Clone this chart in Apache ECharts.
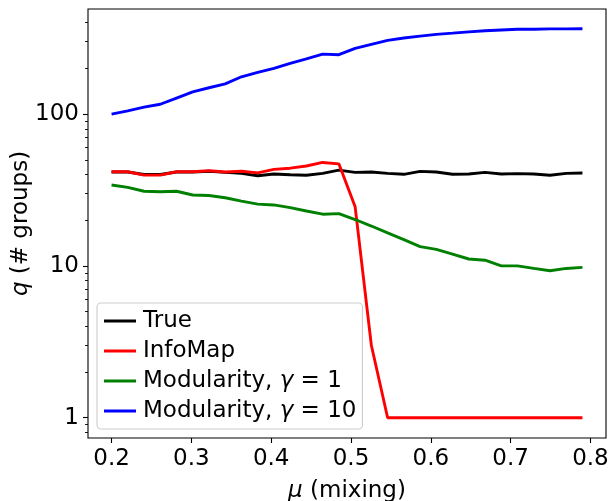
<!DOCTYPE html>
<html>
<head>
<meta charset="utf-8">
<script src="https://cdn.jsdelivr.net/npm/echarts@6/dist/echarts.min.js"></script>
<style>
  html, body { margin: 0; padding: 0; background: #fff; }
  #chart { width: 608px; height: 501px; }
</style>
</head>
<body>
<div id="chart"></div>
<script>
// mixing parameter (30 points, 0.2 .. 0.79)
const mu = [0.2000, 0.2203, 0.2407, 0.2610, 0.2814, 0.3017, 0.3221, 0.3424, 0.3628, 0.3831,
            0.4034, 0.4238, 0.4441, 0.4645, 0.4848, 0.5052, 0.5255, 0.5459, 0.5662, 0.5866,
            0.6069, 0.6272, 0.6476, 0.6679, 0.6883, 0.7086, 0.7290, 0.7493, 0.7697, 0.7900];

const qTrue = [41.5, 41.5, 40, 40, 41.5, 41.5, 42, 41.3, 40.7, 39.2,
               40.3, 39.8, 39.5, 40.7, 42.7, 41.3, 41.5, 40.7, 40.1, 41.9,
               41.5, 40.1, 40.3, 41.3, 40.3, 40.5, 40.3, 39.5, 40.7, 40.9];
const qInfoMap = [41.7, 41.7, 39.6, 39.6, 41.7, 41.7, 42.3, 41.5, 42, 41,
                  43.2, 44, 45.5, 48, 47, 24.5, 3.0, 1, 1, 1,
                  1, 1, 1, 1, 1, 1, 1, 1, 1, 1];
const qMod1 = [34.1, 32.9, 31.0, 30.8, 31.0, 29.3, 29.1, 28.1, 26.7, 25.5,
               25.2, 24.2, 23.0, 21.9, 22.1, 20.2, 18.3, 16.5, 14.9, 13.4,
               12.85, 11.97, 11.1, 10.9, 10.0, 10.0, 9.62, 9.28, 9.62, 9.78];
const qMod10 = [100, 105, 111, 116, 127.5, 140, 149, 158, 176, 188,
                200, 216, 231, 248, 246, 271, 288, 306, 317, 326,
                335, 341, 348, 354, 358, 362, 362, 364, 364, 365];

const xTicks = [0.2, 0.3, 0.4, 0.5, 0.6, 0.7, 0.8];
const yTicks = [1, 10, 100];
const yMinorTicks = [0.8, 0.9, 2, 3, 4, 5, 6, 7, 8, 9, 20, 30, 40, 50, 60, 70, 80, 90, 200, 300, 400];

const font = 'DejaVu Sans';
const fs = 23;
const pairs = ys => mu.map((x, i) => [x, ys[i]]);

const chart = echarts.init(document.getElementById('chart'), null, { renderer: 'canvas' });

function line(name, data, color) {
  return {
    name: name,
    type: 'line',
    data: pairs(data),
    symbol: 'none',
    lineStyle: { color: color, width: 2.9 },
    itemStyle: { color: color },
    animation: false
  };
}

chart.setOption({
  animation: false,
  grid: {
    left: 88, right: 2, top: 9, bottom: 63,
    outerBoundsMode: 'none',
    containLabel: false,
    show: true, borderColor: '#000', borderWidth: 1.1, backgroundColor: 'transparent'
  },
  xAxis: {
    type: 'value',
    min: 0.1705,
    max: 0.8195,
    axisLine: { show: false },
    splitLine: { show: false },
    axisTick: { customValues: xTicks, length: 5, lineStyle: { color: '#000', width: 1.1 } },
    axisLabel: {
      customValues: xTicks,
      formatter: v => v.toFixed(1),
      margin: 10,
      color: '#000',
      fontFamily: font,
      fontSize: fs
    },
    name: '{i|μ} (mixing)',
    nameLocation: 'middle',
    nameGap: 42,
    nameMoveOverlap: false,
    nameTextStyle: {
      color: '#000', fontFamily: font, fontSize: fs,
      rich: { i: { fontStyle: 'italic', fontFamily: font, fontSize: fs, color: '#000' } }
    }
  },
  yAxis: [
    {
      type: 'log',
      logBase: 10,
      min: 0.735,
      max: 492,
      axisLine: { show: false },
      splitLine: { show: false },
      axisTick: { customValues: yTicks, length: 5, lineStyle: { color: '#000', width: 1.1 } },
      axisLabel: {
        customValues: yTicks,
        formatter: v => String(Math.round(v)),
        margin: 9,
        color: '#000',
        fontFamily: font,
        fontSize: fs
      },
      name: '{i|q} (# groups)',
      nameLocation: 'middle',
      nameGap: 55,
      nameMoveOverlap: false,
      nameTextStyle: {
        color: '#000', fontFamily: font, fontSize: fs,
        rich: { i: { fontStyle: 'italic', fontFamily: font, fontSize: fs, color: '#000' } }
      }
    },
    {
      // minor ticks only
      type: 'log',
      logBase: 10,
      min: 0.735,
      max: 492,
      position: 'left',
      axisLine: { show: false },
      splitLine: { show: false },
      axisTick: { customValues: yMinorTicks, length: 3, lineStyle: { color: '#000', width: 0.9 } },
      axisLabel: { show: false }
    }
  ],
  legend: {
    orient: 'vertical',
    left: 97,
    top: 303,
    icon: 'rect',
    itemWidth: 32,
    itemHeight: 3,
    itemGap: 4,
    padding: [5, 6, 5, 7],
    backgroundColor: 'rgba(255,255,255,0.8)',
    borderColor: '#cccccc',
    borderWidth: 1.1,
    borderRadius: 4,
    formatter: name => name.replace('γ', '{g|γ}'),
    textStyle: {
      color: '#000', fontFamily: font, fontSize: fs, lineHeight: 26, padding: [0, 0, 0, 2],
      rich: { g: { fontStyle: 'italic', fontFamily: font, fontSize: fs, color: '#000', lineHeight: 26 } }
    },
    data: ['True', 'InfoMap', 'Modularity, γ = 1', 'Modularity, γ = 10']
  },
  series: [
    line('True', qTrue, '#000000'),
    line('InfoMap', qInfoMap, '#ff0000'),
    line('Modularity, γ = 1', qMod1, '#008000'),
    line('Modularity, γ = 10', qMod10, '#0000ff')
  ]
});
</script>
</body>
</html>
